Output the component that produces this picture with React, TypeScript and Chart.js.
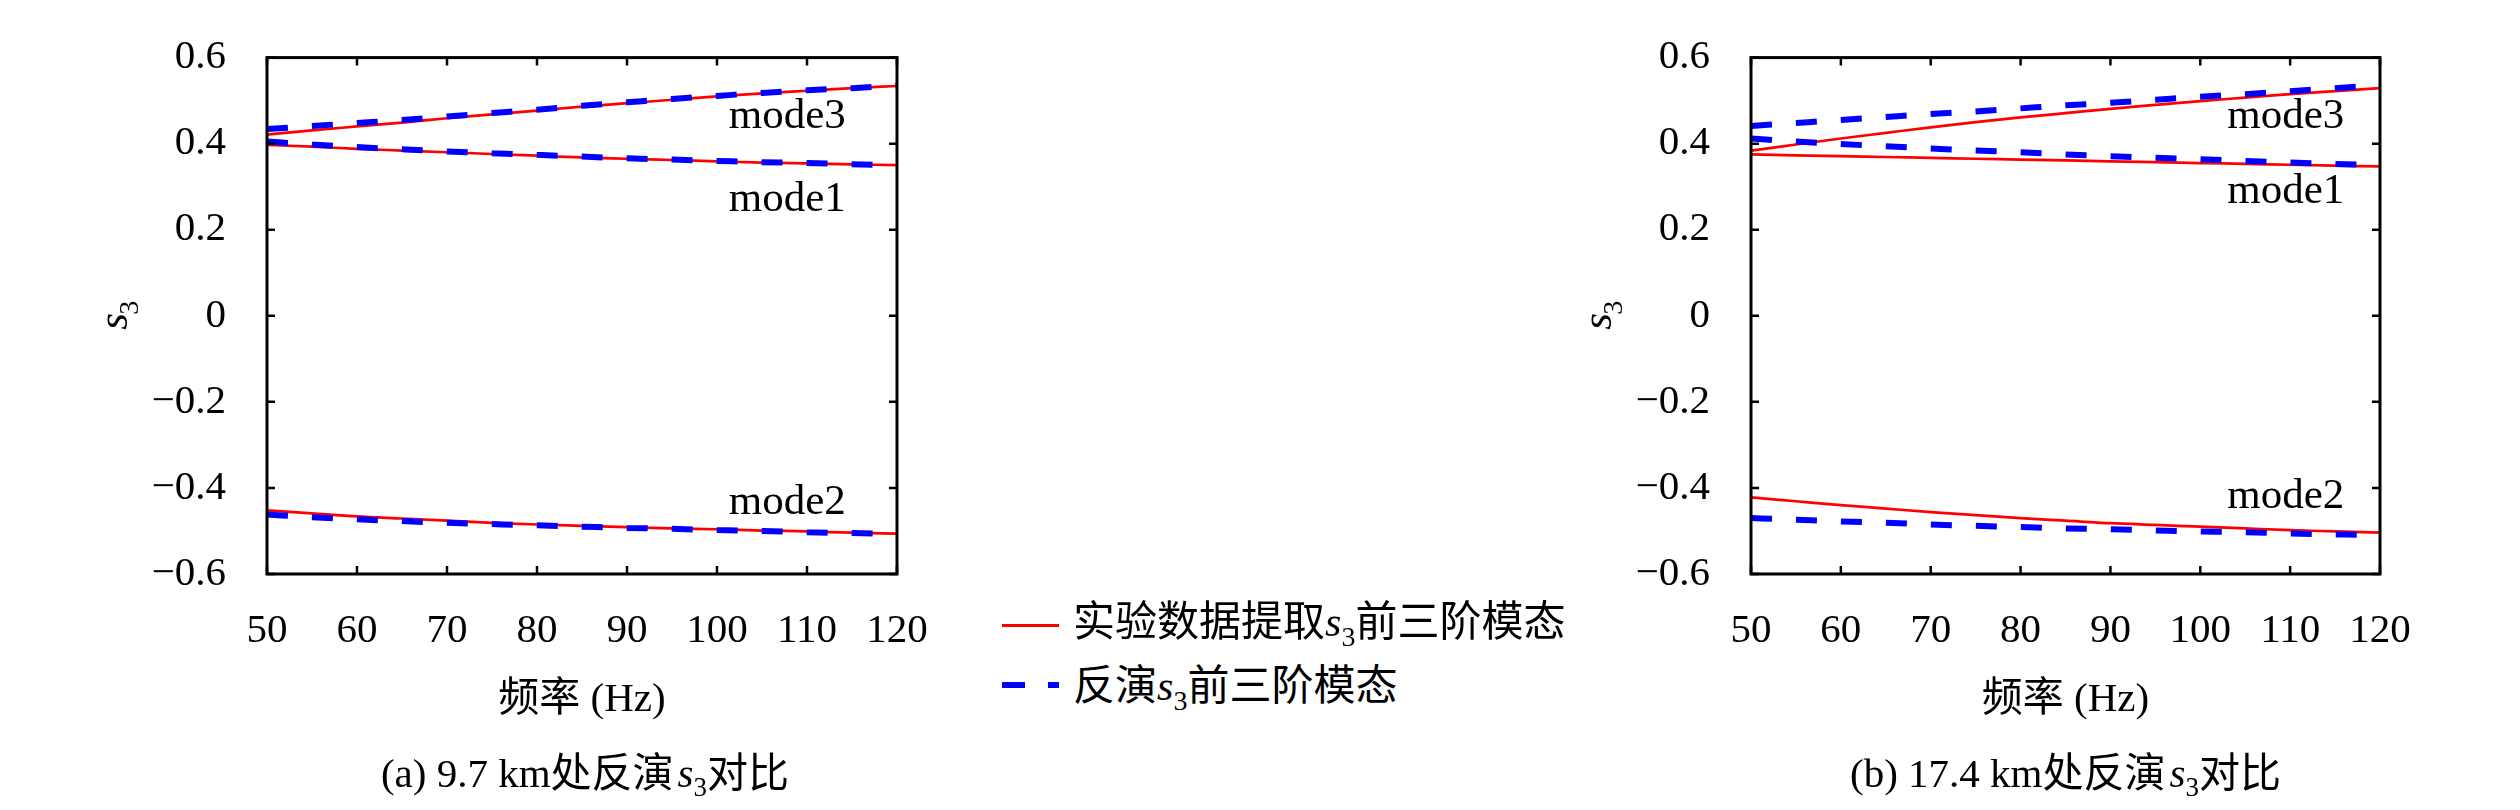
import React, { useEffect, useRef } from "react";
import { Chart, registerables } from "chart.js";

Chart.register(...registerables);

// ---------- data ----------
const freqs = [50, 55, 60, 65, 70, 75, 80, 85, 90, 95, 100, 105, 110, 115, 120];
const xTicks = [50, 60, 70, 80, 90, 100, 110, 120];
const yTicks = [-0.6, -0.4, -0.2, 0, 0.2, 0.4, 0.6];
const yTickLabels = ["\u22120.6", "\u22120.4", "\u22120.2", "0", "0.2", "0.4", "0.6"];

// (a) 9.7 km
const aExpMode1 = [0.397, 0.393, 0.388, 0.384, 0.38, 0.376, 0.372, 0.368, 0.365, 0.362, 0.359, 0.356, 0.354, 0.352, 0.35];
const aExpMode2 = [-0.452, -0.459, -0.466, -0.471, -0.476, -0.481, -0.485, -0.488, -0.491, -0.494, -0.496, -0.499, -0.501, -0.504, -0.506];
const aExpMode3 = [0.421, 0.431, 0.44, 0.449, 0.459, 0.468, 0.477, 0.486, 0.494, 0.502, 0.51, 0.517, 0.523, 0.529, 0.534];
const aInvMode1 = [0.405, 0.398, 0.392, 0.387, 0.382, 0.378, 0.374, 0.37, 0.366, 0.363, 0.36, 0.357, 0.355, 0.352, 0.35];
const aInvMode2 = [-0.462, -0.468, -0.473, -0.477, -0.481, -0.484, -0.487, -0.49, -0.493, -0.495, -0.498, -0.5, -0.503, -0.505, -0.507];
const aInvMode3 = [0.434, 0.441, 0.448, 0.455, 0.463, 0.471, 0.479, 0.488, 0.496, 0.504, 0.511, 0.518, 0.524, 0.529, 0.535];

// (b) 17.4 km
const bExpMode1 = [0.375, 0.373, 0.371, 0.369, 0.367, 0.365, 0.363, 0.361, 0.359, 0.357, 0.355, 0.353, 0.351, 0.349, 0.347];
const bExpMode2 = [-0.422, -0.431, -0.44, -0.448, -0.456, -0.463, -0.47, -0.476, -0.482, -0.486, -0.49, -0.494, -0.498, -0.501, -0.504];
const bExpMode3 = [0.384, 0.398, 0.412, 0.425, 0.438, 0.45, 0.461, 0.471, 0.481, 0.49, 0.499, 0.507, 0.515, 0.522, 0.529];
const bInvMode1 = [0.412, 0.405, 0.399, 0.394, 0.389, 0.384, 0.38, 0.375, 0.371, 0.367, 0.364, 0.36, 0.356, 0.353, 0.35];
const bInvMode2 = [-0.47, -0.474, -0.478, -0.481, -0.485, -0.488, -0.491, -0.494, -0.496, -0.499, -0.501, -0.503, -0.506, -0.508, -0.51];
const bInvMode3 = [0.441, 0.448, 0.455, 0.462, 0.469, 0.475, 0.482, 0.489, 0.495, 0.502, 0.509, 0.515, 0.522, 0.529, 0.536];

// mode annotations (data coordinates: frequency, s3 value at text baseline)
const aModeLabels = [
  { text: "mode3", x: 101.3, y: 0.437 },
  { text: "mode1", x: 101.3, y: 0.243 },
  { text: "mode2", x: 101.3, y: -0.461 },
];
const bModeLabels = [
  { text: "mode3", x: 103.0, y: 0.437 },
  { text: "mode1", x: 103.0, y: 0.262 },
  { text: "mode2", x: 103.0, y: -0.447 },
];

const xTitle = "频率 (Hz)";
const legendExp = ["实验数据提取", "前三阶模态"];
const legendInv = ["反演", "前三阶模态"];
const aCaption = ["(a) 9.7 km处反演", "对比"];
const bCaption = ["(b) 17.4 km处反演", "对比"];

// ---------- styling ----------
const SERIF = '"Liberation Serif", "Noto Sans CJK SC", serif';
const RED = "#ff0000";
const BLUE = "#0000ff";

const toPts = (vals: number[]) => freqs.map((f, i) => ({ x: f, y: vals[i] }));

const decorPlugin = {
  id: "decor",
  afterDraw(chart: any, _args: any, opts: any) {
    const { ctx, chartArea: a, scales } = chart;
    const xs = scales.x;
    const ys = scales.y;
    ctx.save();
    ctx.strokeStyle = "#000";
    ctx.fillStyle = "#000";
    // inward ticks on all four sides
    ctx.lineWidth = 2.5;
    const tl = 8;
    ctx.beginPath();
    for (const v of xTicks) {
      const px = xs.getPixelForValue(v);
      ctx.moveTo(px, a.bottom);
      ctx.lineTo(px, a.bottom - tl);
      ctx.moveTo(px, a.top);
      ctx.lineTo(px, a.top + tl);
    }
    for (const v of yTicks) {
      const py = ys.getPixelForValue(v);
      ctx.moveTo(a.left, py);
      ctx.lineTo(a.left + tl, py);
      ctx.moveTo(a.right, py);
      ctx.lineTo(a.right - tl, py);
    }
    ctx.stroke();
    // frame
    ctx.lineWidth = 3;
    ctx.strokeRect(a.left, a.top, a.right - a.left, a.bottom - a.top);

    // mode labels
    ctx.font = "43px " + SERIF;
    ctx.textAlign = "left";
    ctx.textBaseline = "alphabetic";
    for (const l of opts.labels) {
      ctx.fillText(l.text, xs.getPixelForValue(l.x), ys.getPixelForValue(l.y));
    }

    // y axis title: italic s with subscript 3, rotated
    ctx.save();
    ctx.translate(a.left - 145, (a.top + a.bottom) / 2);
    ctx.rotate(-Math.PI / 2);
    ctx.font = "italic 43px " + SERIF;
    ctx.fillText("s", -14, 5);
    ctx.font = "28px " + SERIF;
    ctx.fillText("3", 1, 16);
    ctx.restore();

    // caption below
    const [pre, post] = opts.caption;
    const mainFont = "41px " + SERIF;
    const itFont = "italic 41px " + SERIF;
    const subFont = "27px " + SERIF;
    ctx.font = mainFont;
    const w1 = ctx.measureText(pre).width;
    const w3 = ctx.measureText(post).width;
    ctx.font = itFont;
    const ws = ctx.measureText("s").width;
    ctx.font = subFont;
    const wsub = ctx.measureText("3").width;
    const total = w1 + 4 + ws + wsub + w3;
    let cx = (a.left + a.right) / 2 + opts.captionShift - total / 2;
    const by = 787;
    ctx.font = mainFont;
    ctx.fillText(pre, cx, by);
    cx += w1 + 4;
    ctx.font = itFont;
    ctx.fillText("s", cx, by);
    cx += ws;
    ctx.font = subFont;
    ctx.fillText("3", cx, by + 9);
    cx += wsub;
    ctx.font = mainFont;
    ctx.fillText(post, cx, by);
    ctx.restore();
  },
};

type PanelProps = {
  left: number;
  yAxisWidth: number;
  rightPad: number;
  exp: number[][];
  inv: number[][];
  labels: { text: string; x: number; y: number }[];
  caption: string[];
  captionShift: number;
};

function Panel(p: PanelProps) {
  const ref = useRef<HTMLCanvasElement>(null);
  useEffect(() => {
    const blue = (vals: number[]) => ({
      data: toPts(vals),
      borderColor: BLUE,
      borderWidth: 6,
      borderDash: [21, 24],
      borderCapStyle: "butt",
      pointRadius: 0,
      fill: false,
      cubicInterpolationMode: "monotone",
    });
    const red = (vals: number[]) => ({
      data: toPts(vals),
      borderColor: RED,
      borderWidth: 2.7,
      pointRadius: 0,
      fill: false,
      cubicInterpolationMode: "monotone",
    });
    const tickFont = { family: SERIF, size: 41 };
    const chart = new Chart(ref.current as HTMLCanvasElement, {
      type: "line",
      data: {
        datasets: [...p.inv.map(blue), ...p.exp.map(red)] as any,
      },
      options: {
        animation: false,
        responsive: false,
        maintainAspectRatio: false,
        layout: { padding: { top: 23, right: p.rightPad, bottom: 0, left: 0 } },
        plugins: {
          legend: { display: false },
          tooltip: { enabled: false },
          decor: { labels: p.labels, caption: p.caption, captionShift: p.captionShift },
        } as any,
        scales: {
          x: {
            type: "linear",
            min: 50,
            max: 120,
            afterBuildTicks: (s: any) => {
              s.ticks = xTicks.map((v) => ({ value: v }));
            },
            afterFit: (s: any) => {
              s.height = 236;
            },
            ticks: {
              font: tickFont,
              color: "#000",
              padding: 25,
              maxRotation: 0,
              autoSkip: false,
              callback: (v: any) => String(v),
            },
            grid: { display: false },
            border: { display: false },
            title: {
              display: true,
              text: xTitle,
              font: { family: SERIF, size: 41 },
              color: "#000",
              padding: { top: 0, bottom: 85 },
            },
          },
          y: {
            type: "linear",
            min: -0.6,
            max: 0.6,
            afterBuildTicks: (s: any) => {
              s.ticks = yTicks.map((v) => ({ value: v }));
            },
            afterFit: (s: any) => {
              s.width = p.yAxisWidth;
            },
            ticks: {
              font: tickFont,
              color: "#000",
              padding: 33,
              autoSkip: false,
              callback: (_v: any, i: number) => yTickLabels[i],
            },
            grid: { display: false },
            border: { display: false },
          },
        },
      } as any,
      plugins: [decorPlugin as any],
    });
    return () => chart.destroy();
  }, []);
  return (
    <canvas
      ref={ref}
      width={960}
      height={810}
      style={{ position: "absolute", left: p.left, top: 0, width: 960, height: 810 }}
    />
  );
}

const legendText: React.CSSProperties = {
  position: "absolute",
  left: 1073,
  height: 50,
  lineHeight: "50px",
  fontSize: 42,
  fontFamily: SERIF,
  color: "#000",
  whiteSpace: "nowrap",
};

function S3() {
  return (
    <span>
      <i>s</i>
      <span style={{ fontSize: 28, position: "relative", top: 10 }}>3</span>
    </span>
  );
}

export default function App() {
  return (
    <div
      style={{
        position: "absolute",
        left: 0,
        top: 0,
        width: 2520,
        height: 810,
        background: "#fff",
        overflow: "hidden",
      }}
    >
      <Panel
        left={0}
        yAxisWidth={267}
        rightPad={63}
        exp={[aExpMode1, aExpMode2, aExpMode3]}
        inv={[aInvMode1, aInvMode2, aInvMode3]}
        labels={aModeLabels}
        caption={aCaption}
        captionShift={3}
      />
      <Panel
        left={1560}
        yAxisWidth={191}
        rightPad={140}
        exp={[bExpMode1, bExpMode2, bExpMode3]}
        inv={[bInvMode1, bInvMode2, bInvMode3]}
        labels={bModeLabels}
        caption={bCaption}
        captionShift={0}
      />
      {/* legend */}
      <div style={{ position: "absolute", left: 1002, top: 624, width: 57, height: 3, background: RED }} />
      <div style={{ position: "absolute", left: 1002, top: 682, width: 23, height: 6, background: BLUE }} />
      <div style={{ position: "absolute", left: 1048, top: 682, width: 11, height: 6, background: BLUE }} />
      <div style={{ ...legendText, top: 597 }}>
        {legendExp[0]}
        <S3 />
        {legendExp[1]}
      </div>
      <div style={{ ...legendText, top: 661 }}>
        {legendInv[0]}
        <S3 />
        {legendInv[1]}
      </div>
    </div>
  );
}
